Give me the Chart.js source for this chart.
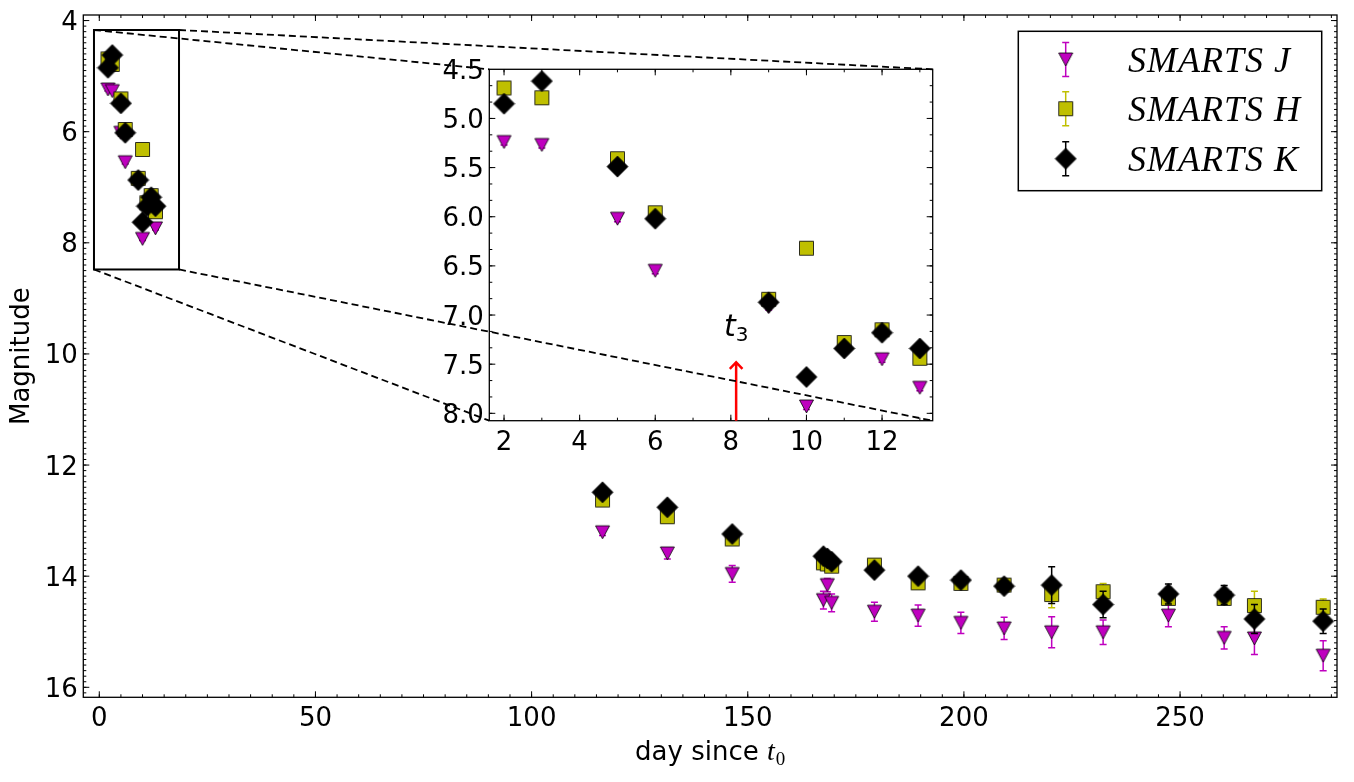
<!DOCTYPE html>
<html>
<head>
<meta charset="utf-8">
<script src="https://cdn.jsdelivr.net/npm/chart.js@4.4.1/dist/chart.umd.min.js"></script>
<style>
  html, body { margin: 0; padding: 0; background: #fff; }
  #wrap { position: relative; width: 1354px; height: 782px; }
  #wrap canvas { position: absolute; left: 0; top: 0; }
</style>
</head>
<body>
<div id="wrap">
  <canvas id="main-chart" width="1354" height="782"></canvas>
  <canvas id="inset-chart" width="1354" height="782"></canvas>
</div>
<script>
// days since t0, shared by the three bands (null = no point in that band)
const days = [2, 3, 5, 6, 9, 10, 11, 12, 13, 116.4, 131.4, 146.4, 167.5, 168.4, 169.4, 179.3, 189.4, 199.3, 209.3, 220.3, 232.2, 247.3, 260.2, 267.2, 283.1];

const magJ = [5.24, 5.27, 6.02, 6.55, 6.92, 7.93, null, 7.45, 7.74, 13.21, 13.59, 13.96, 14.43, 14.16, 14.48, 14.64, 14.71, 14.84, 14.94, 15.01, 15.01, 14.71, 15.11, 15.12, 15.43];
const errJ = [0.03, 0.03, 0.03, 0.03, 0.03, 0.03, null, 0.03, 0.03, 0.06, 0.10, 0.15, 0.16, 0.12, 0.16, 0.17, 0.19, 0.19, 0.20, 0.28, 0.22, 0.20, 0.20, 0.29, 0.27];

const magH = [4.69, 4.79, 5.41, 5.96, 6.84, 6.32, 7.28, 7.15, 7.44, 12.63, 12.93, 13.33, 13.76, 13.78, 13.82, 13.80, 14.12, 14.13, 14.16, 14.33, 14.28, 14.40, 14.40, 14.53, 14.56];
const errH = [0.02, 0.02, 0.02, 0.02, 0.02, 0.02, 0.02, 0.02, 0.02, 0.05, 0.06, 0.06, 0.06, 0.06, 0.06, 0.06, 0.06, 0.06, 0.06, 0.24, 0.15, 0.08, 0.10, 0.26, 0.15];

const magK = [4.85, 4.62, 5.49, 6.02, 6.87, 7.63, 7.34, 7.18, 7.34, 12.49, 12.76, 13.24, 13.64, 13.68, 13.74, 13.89, 14.00, 14.07, 14.18, 14.16, 14.51, 14.32, 14.34, 14.77, 14.81];
const errK = [0.02, 0.02, 0.02, 0.02, 0.02, 0.02, 0.02, 0.02, 0.02, 0.05, 0.05, 0.06, 0.06, 0.06, 0.06, 0.06, 0.07, 0.07, 0.07, 0.33, 0.24, 0.18, 0.17, 0.26, 0.22];

const mainXTicks = [0, 50, 100, 150, 200, 250];
const mainYTicks = [4, 6, 8, 10, 12, 14, 16];
const insetXTicks = [2, 4, 6, 8, 10, 12];
const insetYTicks = [4.5, 5.0, 5.5, 6.0, 6.5, 7.0, 7.5, 8.0];

// region of the main plot that the inset blows up, and the t3 marker
const zoomBox = { x0: -1.23, x1: 18.44, y0: 4.17, y1: 8.48 };
const t3Day = 8.14;
const t3Tip = 7.48;

function makeMarker(kind, fill) {
  const c = document.createElement('canvas');
  const s = kind === 'D' ? 23 : 17;
  c.width = s; c.height = s;
  const g = c.getContext('2d');
  const m = s / 2;
  g.beginPath();
  if (kind === 'v') {
    g.moveTo(m - 7, m - 6.5); g.lineTo(m + 7, m - 6.5); g.lineTo(m, m + 6.5);
  } else if (kind === 's') {
    g.rect(m - 7, m - 7, 14, 14);
  } else {
    g.moveTo(m, m - 10.5); g.lineTo(m + 10.5, m); g.lineTo(m, m + 10.5); g.lineTo(m - 10.5, m);
  }
  g.closePath();
  g.fillStyle = fill;
  g.fill();
  g.lineWidth = 1;
  g.strokeStyle = 'rgba(0,0,0,0.8)';
  g.stroke();
  return c;
}

const series = [
  { label: 'SMARTS J', mags: magJ, errs: errJ, color: '#bf00bf', marker: makeMarker('v', '#bf00bf'), order: 3 },
  { label: 'SMARTS H', mags: magH, errs: errH, color: '#bfbf00', marker: makeMarker('s', '#bfbf00'), order: 2 },
  { label: 'SMARTS K', mags: magK, errs: errK, color: '#000000', marker: makeMarker('D', '#000000'), order: 1 }
];

function points(mags, errs) {
  const out = [];
  days.forEach((d, i) => {
    if (mags[i] != null) out.push({ x: d, y: mags[i], err: errs[i] });
  });
  return out;
}

function buildDatasets() {
  return series.map(s => ({
    label: s.label,
    data: points(s.mags, s.errs),
    pointStyle: s.marker,
    pointRadius: 7,
    pointHoverRadius: 7,
    showLine: false,
    order: s.order,
    clip: 0,
    errColor: s.color
  }));
}

function drawErrorBars(chart, index) {
  const ds = chart.data.datasets[index];
  const { ctx, chartArea: a, scales: { x, y } } = chart;
  ctx.save();
  ctx.beginPath();
  ctx.rect(a.left, a.top, a.right - a.left, a.bottom - a.top);
  ctx.clip();
  ctx.strokeStyle = ds.errColor;
  ctx.lineWidth = 1.5;
  ctx.beginPath();
  ds.data.forEach(p => {
    const px = x.getPixelForValue(p.x);
    const top = y.getPixelForValue(p.y - p.err);
    const bot = y.getPixelForValue(p.y + p.err);
    ctx.moveTo(px, top); ctx.lineTo(px, bot);
    ctx.moveTo(px - 3.5, top); ctx.lineTo(px + 3.5, top);
    ctx.moveTo(px - 3.5, bot); ctx.lineTo(px + 3.5, bot);
  });
  ctx.stroke();
  ctx.restore();
}

function stepValues(min, max, step) {
  const out = [];
  for (let k = Math.ceil(min / step - 1e-9); k * step <= max + 1e-9; k++) out.push(k * step);
  return out;
}

// classic matplotlib look: inward ticks on all four sides
function drawAxesBox(chart, xMajor, xMinorStep, yMajor, yMinorStep, yFmt) {
  const { ctx, chartArea: a, scales: { x, y } } = chart;
  ctx.save();
  ctx.strokeStyle = '#000';
  ctx.lineWidth = 1;
  ctx.beginPath();
  const xTick = (v, len) => {
    const px = x.getPixelForValue(v);
    if (px <= a.left + 1 || px >= a.right - 1) return;
    ctx.moveTo(px, a.bottom); ctx.lineTo(px, a.bottom - len);
    ctx.moveTo(px, a.top); ctx.lineTo(px, a.top + len);
  };
  const yTick = (v, len) => {
    const py = y.getPixelForValue(v);
    if (py <= a.top + 1 || py >= a.bottom - 1) return;
    ctx.moveTo(a.left, py); ctx.lineTo(a.left + len, py);
    ctx.moveTo(a.right, py); ctx.lineTo(a.right - len, py);
  };
  stepValues(x.min, x.max, xMinorStep).forEach(v => xTick(v, 3));
  stepValues(y.min, y.max, yMinorStep).forEach(v => yTick(v, 3));
  xMajor.forEach(v => xTick(v, 6));
  yMajor.forEach(v => yTick(v, 6));
  ctx.stroke();

  ctx.lineWidth = 1.3;
  ctx.strokeRect(a.left, a.top, a.right - a.left, a.bottom - a.top);

  ctx.fillStyle = '#000';
  ctx.font = '26px "DejaVu Sans"';
  ctx.textBaseline = 'alphabetic';
  ctx.textAlign = 'center';
  xMajor.forEach(v => ctx.fillText(String(v), x.getPixelForValue(v), a.bottom + 29));
  ctx.textAlign = 'right';
  yMajor.forEach(v => ctx.fillText(yFmt(v), a.left - 5.5, y.getPixelForValue(v) + 9.5));
  ctx.restore();
}

const mainDecor = {
  id: 'mainDecor',
  beforeDatasetDraw(chart, args) {
    drawErrorBars(chart, args.index);
  },
  afterDraw(chart) {
    const { ctx, chartArea: a, scales: { x, y } } = chart;
    drawAxesBox(chart, mainXTicks, 5, mainYTicks, 0.1, v => String(v));

    ctx.save();
    // zoomed region
    ctx.strokeStyle = '#000';
    ctx.lineWidth = 2;
    const rl = x.getPixelForValue(zoomBox.x0), rr = x.getPixelForValue(zoomBox.x1);
    const rt = y.getPixelForValue(zoomBox.y0), rb = y.getPixelForValue(zoomBox.y1);
    ctx.strokeRect(rl, rt, rr - rl, rb - rt);

    // axis titles
    ctx.fillStyle = '#000';
    ctx.font = '26px "DejaVu Sans"';
    ctx.textAlign = 'center';
    ctx.textBaseline = 'alphabetic';
    ctx.save();
    ctx.translate(29, (a.top + a.bottom) / 2);
    ctx.rotate(-Math.PI / 2);
    ctx.fillText('Magnitude', 0, 0);
    ctx.restore();

    const part1 = 'day since ';
    ctx.font = '26px "DejaVu Sans"';
    const w1 = ctx.measureText(part1).width;
    ctx.font = 'italic 28px "Liberation Serif"';
    const w2 = ctx.measureText('t').width + 1;
    ctx.font = '19px "Liberation Serif"';
    const w3 = ctx.measureText('0').width;
    let tx = (a.left + a.right) / 2 - (w1 + w2 + w3) / 2;
    const base = 760;
    ctx.textAlign = 'left';
    ctx.font = '26px "DejaVu Sans"';
    ctx.fillText(part1, tx, base);
    tx += w1;
    ctx.font = 'italic 28px "Liberation Serif"';
    ctx.fillText('t', tx, base);
    tx += w2;
    ctx.font = '19px "Liberation Serif"';
    ctx.fillText('0', tx, base + 5);

    // legend
    const box = { left: 1018.3, top: 31.3, right: 1321.7, bottom: 190.7 };
    ctx.fillStyle = '#fff';
    ctx.fillRect(box.left, box.top, box.right - box.left, box.bottom - box.top);
    ctx.strokeStyle = '#000';
    ctx.lineWidth = 1.5;
    ctx.strokeRect(box.left, box.top, box.right - box.left, box.bottom - box.top);
    const rowY = [59.5, 108.7, 158.7];
    const mx = 1065.7;
    series.forEach((s, i) => {
      const cy = rowY[i];
      ctx.strokeStyle = s.color;
      ctx.lineWidth = 1.5;
      ctx.beginPath();
      ctx.moveTo(mx, cy - 17); ctx.lineTo(mx, cy + 17);
      ctx.moveTo(mx - 3.5, cy - 17); ctx.lineTo(mx + 3.5, cy - 17);
      ctx.moveTo(mx - 3.5, cy + 17); ctx.lineTo(mx + 3.5, cy + 17);
      ctx.stroke();
      ctx.drawImage(s.marker, mx - s.marker.width / 2, cy - s.marker.height / 2);
      ctx.fillStyle = '#000';
      ctx.font = 'italic 36px "Liberation Serif"';
      ctx.letterSpacing = '1px';
      ctx.textAlign = 'left';
      ctx.fillText(s.label, 1128, cy + 12.3);
      ctx.letterSpacing = '0px';
    });
    ctx.restore();
  }
};

const mainChart = new Chart(document.getElementById('main-chart'), {
  type: 'scatter',
  data: { datasets: buildDatasets() },
  options: {
    responsive: false,
    animation: false,
    events: [],
    layout: { padding: { left: 83.3, right: 17, top: 15, bottom: 84.7 } },
    plugins: { legend: { display: false }, tooltip: { enabled: false } },
    scales: {
      x: { type: 'linear', display: false, bounds: 'data', min: -3.7, max: 286.3 },
      y: { type: 'linear', display: false, bounds: 'data', reverse: true, min: 3.9, max: 16.18 }
    }
  },
  plugins: [mainDecor]
});

const insetDecor = {
  id: 'insetDecor',
  beforeDraw(chart) {
    const { ctx, chartArea: a } = chart;
    ctx.save();
    ctx.fillStyle = '#fff';
    ctx.fillRect(a.left, a.top, a.right - a.left, a.bottom - a.top);
    ctx.restore();
  },
  beforeDatasetDraw(chart, args) {
    drawErrorBars(chart, args.index);
  },
  afterDraw(chart) {
    const { ctx, chartArea: a, scales: { x, y } } = chart;
    drawAxesBox(chart, insetXTicks, 1, insetYTicks, 0.5 / 3, v => v.toFixed(1));

    ctx.save();
    // t3 arrow
    const ax = x.getPixelForValue(t3Day);
    const tip = y.getPixelForValue(t3Tip);
    ctx.strokeStyle = '#ff0000';
    ctx.lineWidth = 2.5;
    ctx.beginPath();
    ctx.moveTo(ax, a.bottom); ctx.lineTo(ax, tip);
    ctx.moveTo(ax - 6.3, tip + 6.7); ctx.lineTo(ax, tip); ctx.lineTo(ax + 6.3, tip + 6.7);
    ctx.stroke();

    ctx.fillStyle = '#000';
    ctx.textAlign = 'left';
    ctx.textBaseline = 'alphabetic';
    ctx.font = 'italic 30px "DejaVu Sans"';
    const wt = ctx.measureText('t').width;
    ctx.font = '20px "DejaVu Sans"';
    const w3 = ctx.measureText('3').width;
    const lx = ax - (wt + w3) / 2;
    ctx.font = 'italic 30px "DejaVu Sans"';
    ctx.fillText('t', lx, tip - 26);
    ctx.font = '20px "DejaVu Sans"';
    ctx.fillText('3', lx + wt, tip - 21);

    // connectors from the zoom box to the inset corners
    const mxs = mainChart.scales.x, mys = mainChart.scales.y;
    const rl = mxs.getPixelForValue(zoomBox.x0), rr = mxs.getPixelForValue(zoomBox.x1);
    const rt = mys.getPixelForValue(zoomBox.y0), rb = mys.getPixelForValue(zoomBox.y1);
    ctx.strokeStyle = '#000';
    ctx.lineWidth = 1.8;
    ctx.setLineDash([7, 4]);
    ctx.beginPath();
    ctx.moveTo(rl, rt); ctx.lineTo(a.left, a.top);
    ctx.moveTo(rr, rt); ctx.lineTo(a.right, a.top);
    ctx.moveTo(rl, rb); ctx.lineTo(a.left, a.bottom);
    ctx.moveTo(rr, rb); ctx.lineTo(a.right, a.bottom);
    ctx.stroke();
    ctx.restore();
  }
};

new Chart(document.getElementById('inset-chart'), {
  type: 'scatter',
  data: { datasets: buildDatasets() },
  options: {
    responsive: false,
    animation: false,
    events: [],
    layout: { padding: { left: 489.3, right: 421.3, top: 69.3, bottom: 361.3 } },
    plugins: { legend: { display: false }, tooltip: { enabled: false } },
    scales: {
      x: { type: 'linear', display: false, bounds: 'data', min: 1.61, max: 13.34 },
      y: { type: 'linear', display: false, bounds: 'data', reverse: true, min: 4.5, max: 8.075 }
    }
  },
  plugins: [insetDecor]
});
</script>
</body>
</html>
